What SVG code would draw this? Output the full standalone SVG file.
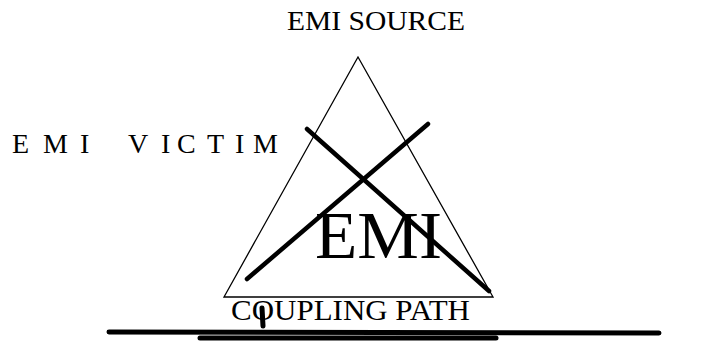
<svg xmlns="http://www.w3.org/2000/svg" width="728" height="349" viewBox="0 0 728 349">
<style>
text{font-family:"Liberation Serif","Times New Roman",serif;fill:#000}
.thin{stroke:#000;stroke-width:1.3;fill:none}
.thick{stroke:#000;stroke-width:4.5;stroke-linecap:round;fill:none}
.bar{stroke:#000;stroke-width:5;stroke-linecap:round;fill:none}
</style>
<rect width="728" height="349" fill="#fff"/>
<g id="triangle">
<polygon class="thin" points="358,57 224,297 493,297"/>
</g>
<g id="source"><text x="287" y="30" font-size="27" textLength="178" lengthAdjust="spacingAndGlyphs">EMI SOURCE</text></g>
<g id="victim"><text x="12 43 80 128 161 177 207 235 253" y="153" font-size="28">EMIVICTIM</text></g>
<g id="emi"><text x="315" y="258" font-size="68" textLength="127" lengthAdjust="spacingAndGlyphs">EMI</text></g>
<g id="coupling"><text x="231" y="320" font-size="30" textLength="239" lengthAdjust="spacingAndGlyphs">COUPLING PATH</text></g>
<g id="connectors">
<line class="thick" x1="307" y1="129" x2="489" y2="291"/>
<line class="thick" x1="428" y1="124" x2="247" y2="279"/>
<line class="bar" x1="262" y1="308" x2="263" y2="326"/>
<line class="bar" x1="109" y1="332" x2="659" y2="333"/>
<line class="bar" x1="200" y1="338" x2="496" y2="338"/>
</g>
</svg>
